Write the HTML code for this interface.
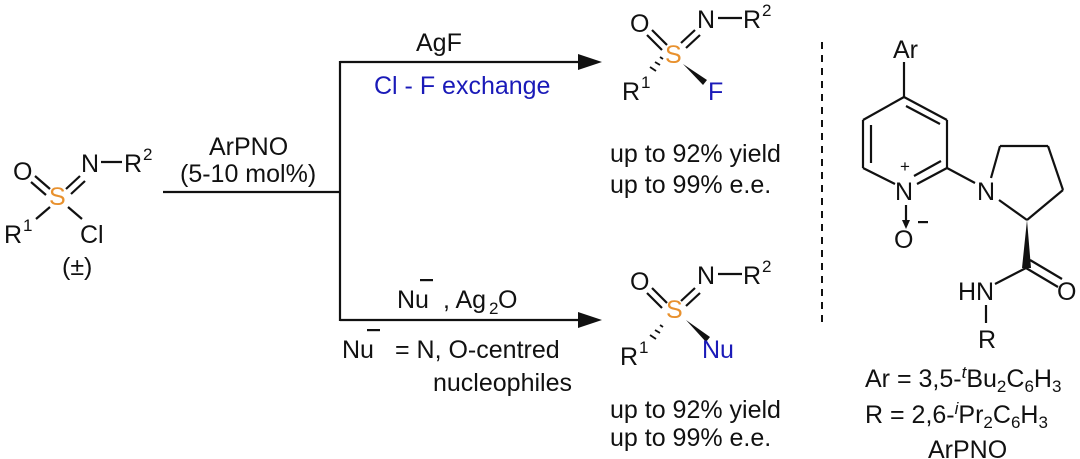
<!DOCTYPE html>
<html><head><meta charset="utf-8"><style>
body{margin:0;background:#fff}
svg{display:block}
text{font-family:"Liberation Sans",sans-serif;font-size:25px;fill:#111}
text.sm{font-size:17px}
.s{fill:#e8912e}.b{fill:#1a1ab8}
</style></head><body>
<svg width="1080" height="459" viewBox="0 0 1080 459" stroke="#111" stroke-width="2.2" fill="none">
<!-- starting material -->
<g>
<line x1="35" y1="176" x2="50" y2="189"/><line x1="31" y1="182" x2="46" y2="195"/>
<line x1="66" y1="189" x2="80" y2="176"/><line x1="71" y1="194" x2="85" y2="181"/>
<line x1="101" y1="162" x2="122" y2="162"/>
<line x1="50" y1="207" x2="36" y2="219"/><line x1="68" y1="207" x2="82" y2="219"/>
</g>
<g stroke="none">
<text x="13" y="180">O</text><text x="81" y="172">N</text><text x="124" y="172">R</text><text class="sm" x="143" y="160">2</text>
<text x="49" y="205" class="s">S</text>
<text x="4" y="243">R</text><text class="sm" x="23" y="231">1</text>
<text x="80" y="243">Cl</text>
<text x="62" y="275">(±)</text>
<text x="209" y="155">ArPNO</text>
<text x="180" y="182">(5-10 mol%)</text>
</g>
<line x1="163" y1="192" x2="340" y2="192"/>
<line x1="340" y1="61" x2="340" y2="321"/>
<line x1="340" y1="62" x2="585" y2="62"/>
<polygon points="602,62 578,54 578,70" fill="#111" stroke="none"/>
<line x1="340" y1="320" x2="585" y2="320"/>
<polygon points="602,320 578,312 578,328" fill="#111" stroke="none"/>
<g stroke="none">
<text x="416" y="51">AgF</text>
<text x="374" y="94" class="b">Cl - F exchange</text>
<text x="397" y="308">Nu</text><rect x="420" y="279" width="13" height="2.2" fill="#111"/>
<text x="443" y="308">, Ag</text><text class="sm" x="489" y="314">2</text><text x="498" y="308">O</text>
<text x="342" y="358">Nu</text><rect x="367" y="329" width="13" height="2.2" fill="#111"/>
<text x="395" y="358">= N, O-centred</text>
<text x="433" y="391">nucleophiles</text>
</g>
<!-- top product -->
<g>
<line x1="652" y1="30" x2="667" y2="45"/><line x1="647" y1="35" x2="662" y2="50"/>
<line x1="681" y1="43" x2="695" y2="30"/><line x1="686" y1="48" x2="700" y2="35"/>
<line x1="718" y1="18" x2="742" y2="18"/>
<g stroke-width="1.8"><line x1="660" y1="57" x2="663" y2="59"/><line x1="655" y1="62" x2="660" y2="65"/><line x1="650" y1="67" x2="656" y2="71"/></g>
<polygon points="683,64 707,80 703,85" fill="#111" stroke="none"/>
</g>
<g stroke="none">
<text x="630" y="32">O</text><text x="697" y="28">N</text><text x="743" y="28">R</text><text class="sm" x="762" y="16">2</text>
<text x="665" y="63" class="s">S</text>
<text x="622" y="100">R</text><text class="sm" x="641" y="88">1</text>
<text x="708" y="100" class="b">F</text>
<text x="610" y="162">up to 92% yield</text>
<text x="610" y="193">up to 99% e.e.</text>
</g>
<!-- bottom product -->
<g>
<line x1="652" y1="288" x2="667" y2="303"/><line x1="647" y1="293" x2="662" y2="308"/>
<line x1="681" y1="301" x2="695" y2="288"/><line x1="686" y1="306" x2="700" y2="293"/>
<line x1="718" y1="274" x2="742" y2="274"/>
<g stroke-width="1.8"><line x1="660" y1="325" x2="663" y2="327"/><line x1="655" y1="330" x2="660" y2="333"/><line x1="650" y1="335" x2="656" y2="339"/></g>
<polygon points="686,320 710,337 706,342" fill="#111" stroke="none"/>
</g>
<g stroke="none">
<text x="630" y="290">O</text><text x="697" y="284">N</text><text x="743" y="284">R</text><text class="sm" x="762" y="272">2</text>
<text x="666" y="318" class="s">S</text>
<text x="620" y="365">R</text><text class="sm" x="639" y="353">1</text>
<text x="702" y="358" class="b">Nu</text>
<text x="610" y="418">up to 92% yield</text>
<text x="610" y="446">up to 99% e.e.</text>
</g>
<!-- dashed line -->
<line x1="822" y1="42" x2="822" y2="328" stroke-dasharray="7,6" stroke-width="2"/>
<!-- ArPNO -->
<g>
<line x1="904" y1="62" x2="904" y2="97"/>
<line x1="904" y1="97" x2="947" y2="120"/><line x1="906" y1="106" x2="940" y2="124"/>
<line x1="947" y1="120" x2="947" y2="168"/>
<line x1="947" y1="168" x2="917" y2="184"/><line x1="941" y1="161" x2="914" y2="176"/>
<line x1="895" y1="184" x2="863" y2="168"/>
<line x1="863" y1="168" x2="863" y2="120"/><line x1="871" y1="163" x2="871" y2="125"/>
<line x1="863" y1="120" x2="904" y2="97"/>
<line x1="947" y1="168" x2="975" y2="183"/>
<line x1="991" y1="178" x2="1000" y2="146"/>
<line x1="1000" y1="146" x2="1048" y2="146"/>
<line x1="1048" y1="146" x2="1063" y2="190"/>
<line x1="1063" y1="190" x2="1027" y2="220"/>
<line x1="1027" y1="220" x2="999" y2="200"/>
<polygon points="1027,220 1022,268 1031,268" fill="#111" stroke="none"/>
<line x1="1026" y1="268" x2="1058" y2="287"/><line x1="1030" y1="260" x2="1062" y2="279"/>
<line x1="1026" y1="268" x2="995" y2="284"/>
<line x1="906" y1="205" x2="906" y2="222"/>
<polygon points="906,229 902,220 910,220" fill="#111" stroke="none"/>
<line x1="986" y1="305" x2="986" y2="323"/>
</g>
<g stroke="none">
<text x="893" y="58">Ar</text>
<text x="895" y="200">N</text><text class="sm" x="900" y="172">+</text>
<text x="894" y="248">O</text><rect x="918" y="221" width="10" height="2.2" fill="#111"/>
<text x="977" y="200">N</text>
<text x="958" y="300">HN</text>
<text x="1057" y="300">O</text>
<text x="978" y="348">R</text>
<text x="865" y="387">Ar = 3,5-<tspan font-style="italic" font-size="17" dy="-9">t</tspan><tspan dy="9">Bu</tspan><tspan font-size="17" dy="5">2</tspan><tspan dy="-5">C</tspan><tspan font-size="17" dy="5">6</tspan><tspan dy="-5">H</tspan><tspan font-size="17" dy="5">3</tspan></text>
<text x="865" y="423">R = 2,6-<tspan font-style="italic" font-size="17" dy="-9">i</tspan><tspan dy="9">Pr</tspan><tspan font-size="17" dy="5">2</tspan><tspan dy="-5">C</tspan><tspan font-size="17" dy="5">6</tspan><tspan dy="-5">H</tspan><tspan font-size="17" dy="5">3</tspan></text>
<text x="928" y="458">ArPNO</text>
</g>
</svg>
</body></html>
